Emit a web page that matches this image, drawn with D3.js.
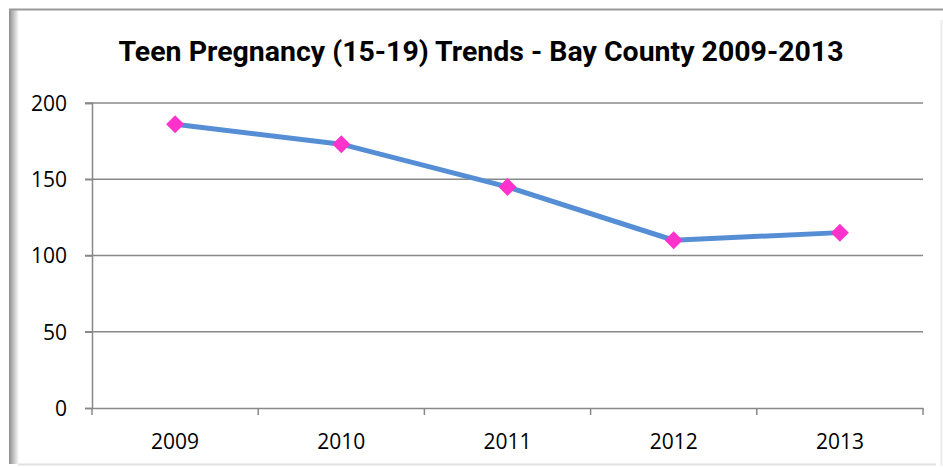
<!DOCTYPE html>
<meta charset="utf-8">
<head>
<style>
  body { margin: 0; background: #fff; }
  svg { display: block; }
  svg text { font-family: "Open Sans", "Noto Sans", sans-serif; }
  svg text.title { font-family: Roboto, "Open Sans", sans-serif; }
</style>
</head>
<body>
<svg id="chart" width="943" height="468"></svg>
<script src="https://cdn.jsdelivr.net/npm/d3@7"></script>
<script>
// data
var years = ["2009", "2010", "2011", "2012", "2013"];
var births = [186, 173, 145, 110, 115];
var yTicks = [0, 50, 100, 150, 200];

var svg = d3.select("#chart"),
    width = +svg.attr("width"),
    height = +svg.attr("height");

var margin = {top: 103, right: 20, bottom: 60, left: 92};
var plotW = 923 - margin.left,
    plotH = 408 - margin.top;

// frame with a soft shadow on the left
var defs = svg.append("defs");
var grad = defs.append("linearGradient").attr("id", "shadeL");
grad.append("stop").attr("offset", "0%").attr("stop-color", "#8c8c8c");
grad.append("stop").attr("offset", "100%").attr("stop-color", "#ffffff");
svg.append("rect").attr("x", 9).attr("y", 10).attr("width", 10).attr("height", 454)
    .attr("fill", "url(#shadeL)");
svg.append("line").attr("x1", 9).attr("x2", width).attr("y1", 9.5).attr("y2", 9.5)
    .attr("stroke", "#9a9a9a").attr("stroke-width", 2);
svg.append("line").attr("x1", 18).attr("x2", 936).attr("y1", 464.5).attr("y2", 464.5)
    .attr("stroke", "#e2e2e2").attr("stroke-width", 2);
svg.append("line").attr("x1", 941.5).attr("x2", 941.5).attr("y1", 20).attr("y2", 466)
    .attr("stroke", "#ececec").attr("stroke-width", 2);

// title
svg.append("text")
    .attr("class", "title")
    .attr("x", 481).attr("y", 61)
    .attr("text-anchor", "middle")
    .style("font-size", "28px").style("font-weight", "bold")
    .attr("textLength", 725).attr("lengthAdjust", "spacingAndGlyphs")
    .text("Teen Pregnancy (15-19) Trends - Bay County 2009-2013");

var g = svg.append("g").attr("transform", "translate(" + margin.left + "," + margin.top + ")");

var x = d3.scaleBand().domain(years).range([0, plotW]);
var y = d3.scaleLinear().domain([0, 200]).range([plotH, 0]);

// gridlines
g.selectAll(".grid")
  .data(yTicks.filter(function(d){ return d > 0; }))
  .enter().append("line")
    .attr("x1", -7).attr("x2", plotW)
    .attr("y1", function(d){ return y(d); })
    .attr("y2", function(d){ return y(d); })
    .attr("stroke", "#888").attr("stroke-width", 1.5);

// y axis
var yAxis = g.append("g")
    .call(d3.axisLeft(y).tickValues(yTicks).tickSize(7).tickPadding(18));
yAxis.attr("font-family", null);
yAxis.select(".domain").attr("stroke", "#888").attr("stroke-width", 1.5);
yAxis.selectAll(".tick line").attr("stroke", "#888").attr("stroke-width", 1.5);
yAxis.selectAll("text").style("font-size", "21px").attr("fill", "#000").attr("dy", "0.35em");

// x axis: ticks on band boundaries
var xAxis = g.append("g").attr("transform", "translate(0," + plotH + ")")
    .call(d3.axisBottom(x).tickSize(0).tickPadding(26));
xAxis.attr("font-family", null);
xAxis.select(".domain").attr("stroke", "#888").attr("stroke-width", 1.5);
xAxis.selectAll("text").style("font-size", "21px").attr("fill", "#000");
xAxis.selectAll(".edge")
  .data(years.map(function(d){ return x(d); }).concat([plotW]))
  .enter().append("line")
    .attr("x1", function(d){ return d; }).attr("x2", function(d){ return d; })
    .attr("y1", 0).attr("y2", 7)
    .attr("stroke", "#888").attr("stroke-width", 1.5);

// the line
var line = d3.line()
    .x(function(d, i){ return x(years[i]) + x.bandwidth() / 2; })
    .y(function(d){ return y(d); });

g.append("path")
    .datum(births)
    .attr("d", line)
    .attr("fill", "none")
    .attr("stroke", "#558ed5")
    .attr("stroke-width", 5)
    .attr("stroke-linejoin", "round");

// diamond markers
g.selectAll(".pt")
  .data(births)
  .enter().append("path")
    .attr("d", "M0,-9L9,0L0,9L-9,0Z")
    .attr("transform", function(d, i){ return "translate(" + (x(years[i]) + x.bandwidth() / 2) + "," + y(d) + ")"; })
    .attr("fill", "#ff33cc");
</script>
</body>
